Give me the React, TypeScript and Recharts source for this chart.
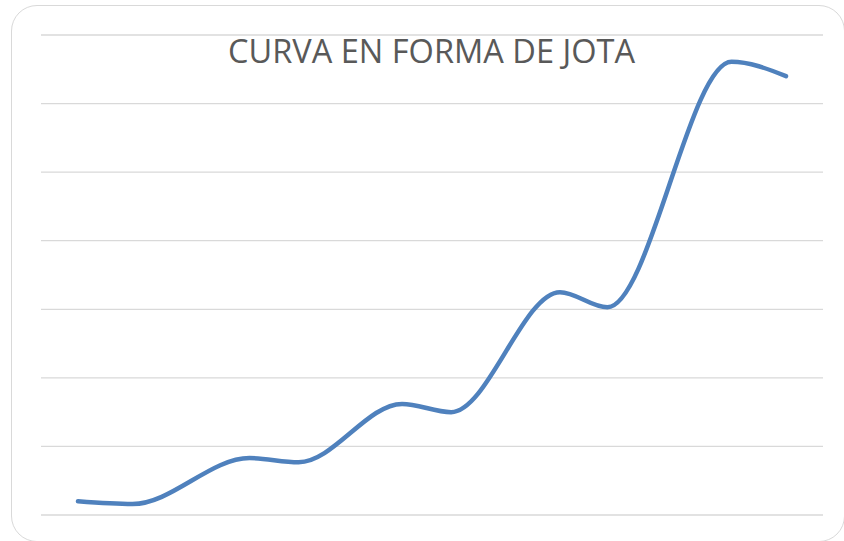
import { CartesianGrid, Line, LineChart, XAxis, YAxis } from "recharts";

const xValues = [1, 2, 4.15, 5.05, 6.95, 7.85, 9.85, 10.72, 13, 14];
const yValues = [0.2, 0.16, 0.83, 0.77, 1.62, 1.5, 3.25, 3.03, 6.61, 6.4];
const yTicks = [0, 1, 2, 3, 4, 5, 6, 7];
const title = "CURVA EN FORMA DE JOTA";

const data = xValues.map((x, i) => ({ x, value: yValues[i] }));

export default function App() {
  return (
    <div
      style={{
        position: "absolute",
        left: 0,
        top: 0,
        width: 844,
        height: 541,
        overflow: "hidden",
        background: "#ffffff"
      }}
    >
      <div
        style={{
          position: "absolute",
          left: 11,
          top: 5,
          width: 834,
          height: 537,
          border: "1.5px solid #d9d9d9",
          borderRadius: 26,
          boxSizing: "border-box"
        }}
      />
      <LineChart
        width={844}
        height={541}
        data={data}
        margin={{ left: 41, right: 21, top: 35, bottom: 26 }}
        style={{ position: "absolute", left: 0, top: 0 }}
      >
        <CartesianGrid vertical={false} stroke="#d9d9d9" strokeWidth={1.3} />
        <XAxis
          dataKey="x"
          type="number"
          domain={[1, 14]}
          hide
          padding={{ left: 37, right: 37 }}
        />
        <YAxis hide domain={[0, 7]} ticks={yTicks} />
        <Line
          dataKey="value"
          type="monotoneX"
          stroke="#4f81bd"
          strokeWidth={4.5}
          strokeLinecap="round"
          dot={false}
          activeDot={false}
          isAnimationActive={false}
        />
      </LineChart>
      <svg
        width={844}
        height={541}
        style={{ position: "absolute", left: 0, top: 0, pointerEvents: "none" }}
      >
        <text
          x={228}
          y={62.5}
          fontFamily="'Open Sans', sans-serif"
          fontSize={32}
          fill="#595959"
          textLength={407}
          lengthAdjust="spacingAndGlyphs"
        >
          {title}
        </text>
      </svg>
    </div>
  );
}
